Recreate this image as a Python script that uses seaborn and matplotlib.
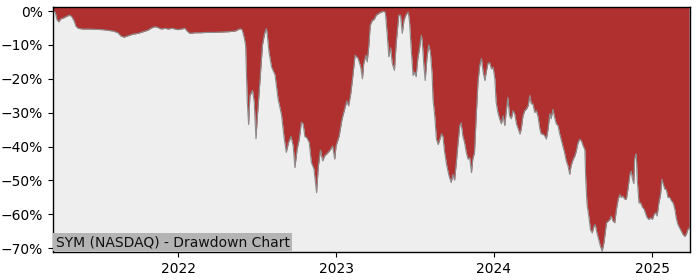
import matplotlib
matplotlib.use("Agg")
import matplotlib.pyplot as plt
import matplotlib.dates as mdates
import matplotlib.ticker as mticker
import numpy as np
import pandas as pd
import seaborn as sns

dates = [
    "2021-03-18", "2021-03-23", "2021-03-27", "2021-03-31", "2021-04-05", "2021-04-12",
    "2021-04-19", "2021-04-26", "2021-05-01", "2021-05-06", "2021-05-10", "2021-05-15",
    "2021-05-26", "2021-06-12", "2021-06-25", "2021-07-12", "2021-07-23", "2021-08-04",
    "2021-08-15", "2021-08-22", "2021-08-29", "2021-09-07", "2021-09-19", "2021-09-30",
    "2021-10-12", "2021-10-24", "2021-10-31", "2021-11-09", "2021-11-16", "2021-11-23",
    "2021-12-02", "2021-12-09", "2021-12-18", "2021-12-25", "2022-01-01", "2022-01-08",
    "2022-01-17", "2022-01-21", "2022-01-28", "2022-02-09", "2022-02-21", "2022-03-07",
    "2022-03-23", "2022-04-08", "2022-04-27", "2022-05-13", "2022-05-24", "2022-05-29",
    "2022-06-03", "2022-06-06", "2022-06-10", "2022-06-13", "2022-06-16", "2022-06-22",
    "2022-06-26", "2022-06-30", "2022-07-03", "2022-07-09", "2022-07-15", "2022-07-20",
    "2022-07-24", "2022-07-26", "2022-07-30", "2022-08-05", "2022-08-13", "2022-08-20",
    "2022-08-28", "2022-09-03", "2022-09-08", "2022-09-13", "2022-09-19", "2022-09-24",
    "2022-09-28", "2022-10-03", "2022-10-08", "2022-10-13", "2022-10-17", "2022-10-21",
    "2022-10-26", "2022-10-31", "2022-11-05", "2022-11-11", "2022-11-17", "2022-11-21",
    "2022-11-26", "2022-12-01", "2022-12-06", "2022-12-14", "2022-12-19", "2022-12-24",
    "2022-12-29", "2023-01-01", "2023-01-08", "2023-01-15", "2023-01-21", "2023-01-26",
    "2023-01-30", "2023-02-04", "2023-02-09", "2023-02-14", "2023-02-21", "2023-02-27",
    "2023-03-03", "2023-03-06", "2023-03-11", "2023-03-14", "2023-03-18", "2023-03-21",
    "2023-03-26", "2023-03-30", "2023-04-04", "2023-04-12", "2023-04-19", "2023-04-25",
    "2023-04-29", "2023-05-03", "2023-05-07", "2023-05-11", "2023-05-16", "2023-05-20",
    "2023-05-26", "2023-05-30", "2023-06-03", "2023-06-07", "2023-06-12", "2023-06-17",
    "2023-06-20", "2023-06-24", "2023-06-28", "2023-07-02", "2023-07-05", "2023-07-09",
    "2023-07-13", "2023-07-17", "2023-07-19", "2023-07-23", "2023-07-26", "2023-07-30",
    "2023-08-03", "2023-08-07", "2023-08-11", "2023-08-13", "2023-08-17", "2023-08-21",
    "2023-08-25", "2023-08-29", "2023-09-02", "2023-09-05", "2023-09-09", "2023-09-14",
    "2023-09-19", "2023-09-24", "2023-09-28", "2023-10-02", "2023-10-06", "2023-10-10",
    "2023-10-14", "2023-10-17", "2023-10-21", "2023-10-25", "2023-10-29", "2023-11-02",
    "2023-11-06", "2023-11-10", "2023-11-13", "2023-11-17", "2023-11-21", "2023-11-25",
    "2023-11-29", "2023-12-03", "2023-12-07", "2023-12-11", "2023-12-14", "2023-12-18",
    "2023-12-22", "2023-12-26", "2023-12-30", "2024-01-03", "2024-01-06", "2024-01-10",
    "2024-01-14", "2024-01-18", "2024-01-22", "2024-01-26", "2024-01-29", "2024-02-02",
    "2024-02-06", "2024-02-10", "2024-02-14", "2024-02-18", "2024-02-22", "2024-02-26",
    "2024-03-01", "2024-03-04", "2024-03-08", "2024-03-12", "2024-03-16", "2024-03-20",
    "2024-03-24", "2024-03-27", "2024-03-31", "2024-04-04", "2024-04-08", "2024-04-12",
    "2024-04-16", "2024-04-19", "2024-04-23", "2024-04-27", "2024-05-01", "2024-05-05",
    "2024-05-09", "2024-05-12", "2024-05-16", "2024-05-20", "2024-05-24", "2024-05-28",
    "2024-06-01", "2024-06-04", "2024-06-08", "2024-06-12", "2024-06-16", "2024-06-20",
    "2024-06-24", "2024-06-27", "2024-07-02", "2024-07-06", "2024-07-09", "2024-07-13",
    "2024-07-17", "2024-07-21", "2024-07-25", "2024-07-29", "2024-07-31", "2024-08-03",
    "2024-08-07", "2024-08-11", "2024-08-15", "2024-08-19", "2024-08-22", "2024-08-26",
    "2024-08-30", "2024-09-03", "2024-09-07", "2024-09-11", "2024-09-14", "2024-09-17",
    "2024-09-21", "2024-09-25", "2024-09-28", "2024-10-02", "2024-10-06", "2024-10-10",
    "2024-10-14", "2024-10-18", "2024-10-21", "2024-10-25", "2024-10-29", "2024-11-02",
    "2024-11-06", "2024-11-10", "2024-11-13", "2024-11-16", "2024-11-19", "2024-11-21",
    "2024-11-24", "2024-11-25", "2024-11-27", "2024-12-01", "2024-12-05", "2024-12-09",
    "2024-12-13", "2024-12-17", "2024-12-20", "2024-12-24", "2024-12-28", "2025-01-01",
    "2025-01-05", "2025-01-09", "2025-01-12", "2025-01-16", "2025-01-20", "2025-01-23",
    "2025-01-26", "2025-01-30", "2025-02-02", "2025-02-06", "2025-02-10", "2025-02-14",
    "2025-02-18", "2025-02-22", "2025-02-25", "2025-03-01", "2025-03-05", "2025-03-09",
    "2025-03-13", "2025-03-17", "2025-03-20", "2025-03-24", "2025-03-27",
]

drawdown_pct = [
    0.0, -0.3, -2.5, -3.2, -2.3, -2.0,
    -1.5, -1.2, -1.8, -3.0, -4.5, -5.1,
    -5.3, -5.3, -5.4, -5.5, -5.7, -5.9,
    -6.4, -7.4, -7.7, -7.3, -6.8, -6.6,
    -6.1, -5.6, -5.0, -4.6, -4.9, -5.3,
    -5.1, -5.3, -5.1, -5.3, -5.5, -5.3,
    -5.1, -5.8, -6.6, -6.4, -6.4, -6.3,
    -6.3, -6.2, -6.1, -5.9, -5.2, -5.5,
    -8.0, -10.0, -26.9, -33.5, -25.0, -23.4,
    -26.9, -37.7, -31.5, -21.0, -10.0, -6.6,
    -5.1, -6.8, -12.0, -16.5, -18.8, -25.9,
    -30.6, -37.3, -41.7, -38.9, -37.0, -39.8,
    -46.2, -40.8, -37.8, -32.8, -33.3, -37.0,
    -37.5, -38.8, -44.7, -46.6, -53.6, -46.0,
    -41.0, -44.2, -42.7, -41.7, -40.9, -39.8,
    -43.7, -39.8, -37.0, -31.8, -28.9, -26.5,
    -28.0, -24.4, -19.0, -13.0, -14.0, -16.5,
    -20.0, -15.5, -13.0, -15.0, -10.0, -4.2,
    -2.7, -2.5, -1.2, -0.5, -0.1, -0.3,
    -6.5, -13.5, -10.8, -15.5, -17.5, -9.5,
    -1.2, -1.2, -6.6, -2.7, -1.0, -0.3,
    -3.5, -11.7, -19.0, -18.0, -19.4, -14.0,
    -11.0, -7.1, -8.5, -16.1, -20.5, -14.0,
    -10.0, -12.0, -18.5, -25.9, -30.8, -37.8,
    -39.4, -37.8, -36.2, -37.0, -41.7, -45.7,
    -48.6, -50.6, -48.2, -49.9, -44.7, -38.8,
    -33.8, -33.0, -36.9, -38.8, -41.7, -43.7,
    -43.3, -47.7, -43.7, -41.7, -30.9, -21.0,
    -16.1, -14.0, -18.0, -20.5, -18.0, -15.5,
    -15.2, -17.1, -16.6, -20.0, -26.9, -29.9,
    -31.8, -33.3, -30.9, -33.8, -29.9, -25.5,
    -30.9, -31.8, -29.4, -30.4, -33.3, -34.8,
    -36.3, -34.8, -30.9, -29.4, -28.9, -27.9,
    -24.9, -27.4, -27.4, -29.9, -29.4, -31.3,
    -34.8, -36.3, -36.3, -36.8, -37.8, -34.8,
    -30.3, -31.8, -29.0, -31.3, -33.3, -33.8,
    -36.3, -37.8, -39.8, -41.7, -44.2, -45.7,
    -48.2, -45.7, -43.7, -42.7, -41.4, -38.9,
    -37.8, -38.3, -39.8, -40.9, -49.6, -57.0,
    -60.5, -64.5, -65.5, -63.5, -63.0, -65.5,
    -67.4, -69.4, -70.9, -68.4, -65.5, -62.5,
    -62.0, -61.5, -60.5, -62.0, -62.5, -58.5,
    -55.5, -54.1, -55.0, -54.6, -55.5, -55.5,
    -52.1, -48.2, -47.2, -49.6, -50.9, -43.7,
    -42.2, -42.7, -49.6, -56.6, -56.6, -57.9,
    -58.5, -60.0, -61.0, -61.5, -61.0, -61.5,
    -60.0, -59.5, -60.5, -56.6, -54.1, -49.6,
    -51.1, -52.6, -52.6, -55.0, -55.0, -56.0,
    -56.6, -58.5, -61.0, -63.0, -64.0, -65.0,
    -66.0, -66.5, -66.0, -64.5, -64.0,
]

ytick_values = [0, -10, -20, -30, -40, -50, -60, -70]
xtick_years = ["2022", "2023", "2024", "2025"]
title_text = "SYM (NASDAQ) - Drawdown Chart"

df = pd.DataFrame({"date": pd.to_datetime(dates), "dd": drawdown_pct})

plt.rcParams["font.family"] = ["DejaVu Sans"]
fig = plt.figure(figsize=(7.0, 2.8), dpi=100)
ax = fig.add_axes([53 / 700, 1 - 252.3 / 280, (690 - 53) / 700, (252.3 - 7) / 280])
ax.set_facecolor("#EEEEEE")

ax.fill_between(df["date"], df["dd"], 5, color="#B03030", linewidth=0, zorder=2)
sns.lineplot(data=df, x="date", y="dd", ax=ax, color="#8C8C8C", linewidth=0.8, zorder=3)

ax.set_xlim(pd.Timestamp("2021-03-18"), pd.Timestamp("2025-03-29"))
ax.set_ylim(-71.2, 1.2)

ax.set_yticks(ytick_values)
ax.yaxis.set_major_formatter(mticker.FuncFormatter(
    lambda v, p: ("%d%%" % v).replace("-", "\u2212")))
ax.set_xticks([pd.Timestamp(y + "-01-01") for y in xtick_years])
ax.set_xticklabels(xtick_years)
ax.tick_params(labelsize=10, length=3.5, width=0.8, colors="black")
ax.set_xlabel("")
ax.set_ylabel("")
for s in ax.spines.values():
    s.set_color("black")
    s.set_linewidth(1.0)
    s.set_zorder(5)

ax.text(0.004, 0.012, title_text, transform=ax.transAxes, fontsize=10,
        ha="left", va="bottom", color="#111111", zorder=6,
        bbox=dict(boxstyle="square,pad=0.15", facecolor="#B4B4B4", edgecolor="none"))

fig.savefig("out.png", dpi=100)
